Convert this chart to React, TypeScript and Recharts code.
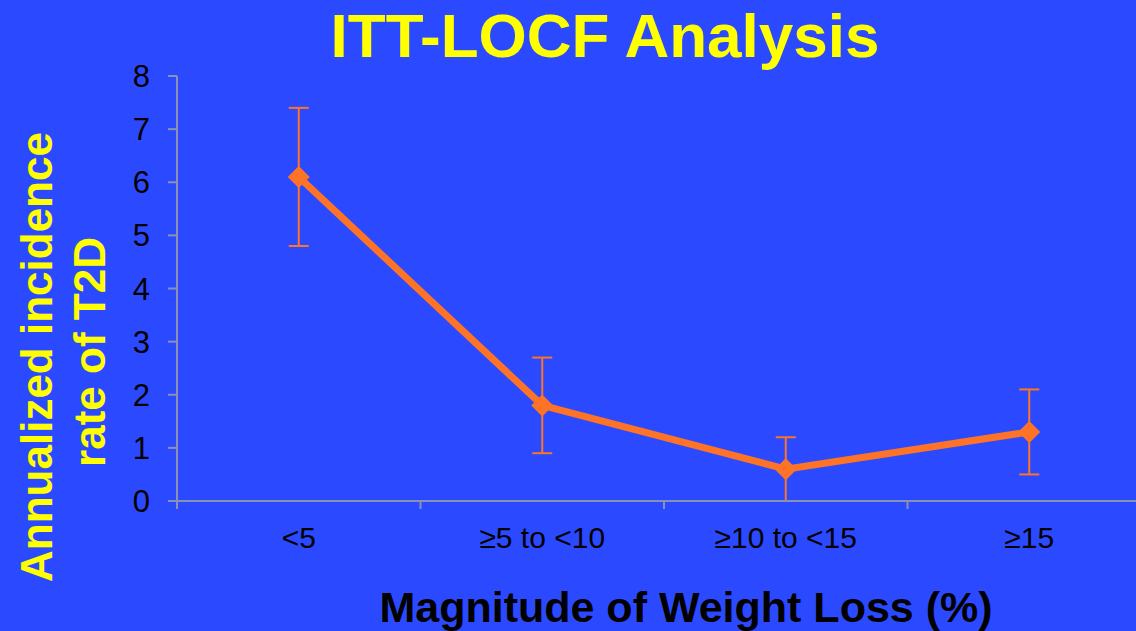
import { CartesianGrid, ErrorBar, Line, LineChart, XAxis, YAxis } from "recharts";

const categories = ["<5", "≥5 to <10", "≥10 to <15", "≥15"];
const incidence = [6.1, 1.8, 0.6, 1.3];
const ciLow = [4.8, 0.9, 0.0, 0.5];
const ciHigh = [7.4, 2.7, 1.2, 2.1];
const yTicks = [0, 1, 2, 3, 4, 5, 6, 7, 8];

const BG = "#2b4aff";
const ORANGE = "#ff7326";
const AXIS = "#8a90b8";
const FONT = '"Liberation Sans", Arial, sans-serif';

const data = categories.map((c, i) => ({
  pos: i + 0.5,
  name: c,
  value: incidence[i],
  err: [incidence[i] - ciLow[i], ciHigh[i] - incidence[i]],
}));

// ticks at band edges (integers) get a tick mark, band centres get the label
const xTicks = [0, 0.5, 1, 1.5, 2, 2.5, 3, 3.5, 4];

function XTick(props: any) {
  const { x, y, payload } = props;
  const v = payload.value as number;
  if (Number.isInteger(v)) {
    return <line x1={x} x2={x} y1={y} y2={y + 8} stroke={AXIS} strokeWidth={2} />;
  }
  return (
    <text x={x} y={y + 47} textAnchor="middle" fill="#000" fontSize={30} fontFamily={FONT}>
      {categories[Math.floor(v)]}
    </text>
  );
}

function Diamond(props: any) {
  const { cx, cy } = props;
  if (cx == null || cy == null) return null;
  return (
    <path
      d={`M${cx},${cy - 11} L${cx + 11},${cy} L${cx},${cy + 11} L${cx - 11},${cy} Z`}
      fill={ORANGE}
    />
  );
}

export default function App() {
  return (
    <div
      style={{
        position: "fixed",
        left: 0,
        top: 0,
        width: 1136,
        height: 631,
        overflow: "hidden",
        background: BG,
        fontFamily: FONT,
      }}
    >
      <LineChart
        width={1200}
        height={631}
        data={data}
        margin={{ top: 76, right: 49, bottom: 70, left: 0 }}
      >
        <CartesianGrid stroke="none" />
        <XAxis
          dataKey="pos"
          type="number"
          domain={[0, 4]}
          ticks={xTicks}
          interval={0}
          tick={<XTick />}
          tickLine={false}
          tickSize={0}
          tickMargin={0}
          stroke={AXIS}
          strokeWidth={2}
          height={60}
        />
        <YAxis
          domain={[0, 8]}
          ticks={yTicks}
          interval={0}
          width={177}
          tickSize={9}
          tickMargin={18}
          stroke={AXIS}
          strokeWidth={2}
          tick={{ fill: "#000", fontSize: 31, fontFamily: FONT }}
        />
        <Line
          dataKey="value"
          stroke={ORANGE}
          strokeWidth={7}
          dot={<Diamond />}
          activeDot={false}
          isAnimationActive={false}
        >
          <ErrorBar dataKey="err" width={10} stroke={ORANGE} strokeWidth={2} />
        </Line>
      </LineChart>
      <svg
        width={1136}
        height={631}
        style={{ position: "absolute", left: 0, top: 0, pointerEvents: "none" }}
      >
        <text x={605} y={57} textAnchor="middle" fill="#ffff00" fontSize={62} fontWeight="bold" fontFamily={FONT}>
          ITT-LOCF Analysis
        </text>
        <text
          transform="translate(52,357) rotate(-90)"
          textAnchor="middle"
          fill="#ffff00"
          fontSize={44}
          fontWeight="bold"
          fontFamily={FONT}
        >
          Annualized incidence
        </text>
        <text
          transform="translate(105,352) rotate(-90)"
          textAnchor="middle"
          fill="#ffff00"
          fontSize={44}
          fontWeight="bold"
          fontFamily={FONT}
        >
          rate of T2D
        </text>
        <text x={686} y={622} textAnchor="middle" fill="#000" fontSize={43} fontWeight="bold" fontFamily={FONT}>
          Magnitude of Weight Loss (%)
        </text>
      </svg>
    </div>
  );
}
